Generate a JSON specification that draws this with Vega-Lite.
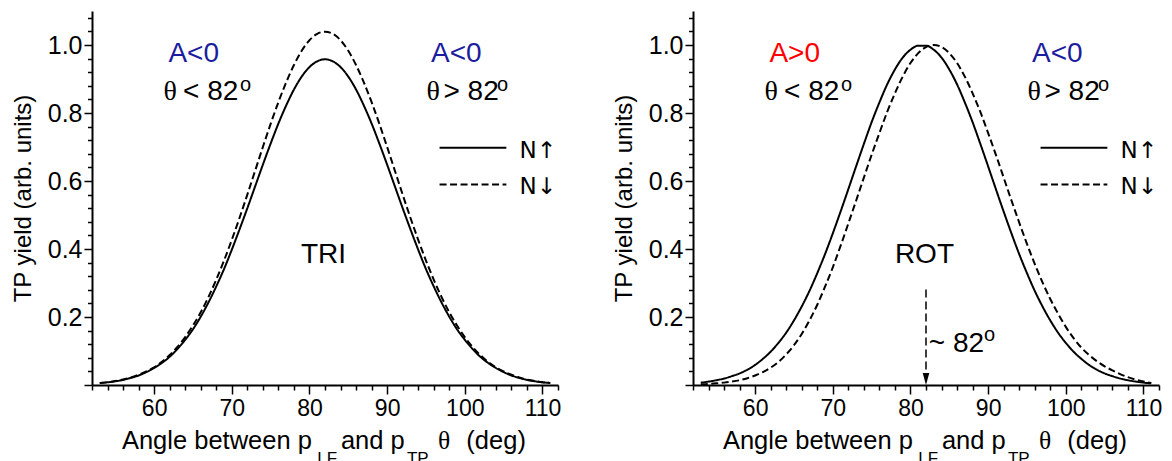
{
  "$schema": "https://vega.github.io/schema/vega-lite/v6.json",
  "background": "white",
  "padding": {"left": 11, "top": 5, "right": 0, "bottom": 0},
  "bounds": "flush",
  "spacing": 135,
  "config": {
    "view": {"stroke": null},
    "font": "Liberation Sans",
    "axis": {
      "labelFont": "Liberation Sans",
      "titleFont": "Liberation Sans",
      "labelColor": "black",
      "titleColor": "black",
      "domainColor": "black",
      "tickColor": "black",
      "grid": false
    }
  },
  "datasets": {
    "yields": [
      {"panel":"TRI","kind":"curve","series":"N↑","theta":53,"yield":0.006},{"panel":"TRI","kind":"curve","series":"N↑","theta":54,"yield":0.008},{"panel":"TRI","kind":"curve","series":"N↑","theta":55,"yield":0.011},{"panel":"TRI","kind":"curve","series":"N↑","theta":56,"yield":0.015},{"panel":"TRI","kind":"curve","series":"N↑","theta":57,"yield":0.021},{"panel":"TRI","kind":"curve","series":"N↑","theta":58,"yield":0.028},{"panel":"TRI","kind":"curve","series":"N↑","theta":59,"yield":0.038},{"panel":"TRI","kind":"curve","series":"N↑","theta":60,"yield":0.050},{"panel":"TRI","kind":"curve","series":"N↑","theta":61,"yield":0.065},{"panel":"TRI","kind":"curve","series":"N↑","theta":62,"yield":0.083},{"panel":"TRI","kind":"curve","series":"N↑","theta":63,"yield":0.106},{"panel":"TRI","kind":"curve","series":"N↑","theta":64,"yield":0.133},{"panel":"TRI","kind":"curve","series":"N↑","theta":65,"yield":0.164},{"panel":"TRI","kind":"curve","series":"N↑","theta":66,"yield":0.201},{"panel":"TRI","kind":"curve","series":"N↑","theta":67,"yield":0.243},{"panel":"TRI","kind":"curve","series":"N↑","theta":68,"yield":0.290},{"panel":"TRI","kind":"curve","series":"N↑","theta":69,"yield":0.341},{"panel":"TRI","kind":"curve","series":"N↑","theta":70,"yield":0.398},{"panel":"TRI","kind":"curve","series":"N↑","theta":71,"yield":0.458},{"panel":"TRI","kind":"curve","series":"N↑","theta":72,"yield":0.520},{"panel":"TRI","kind":"curve","series":"N↑","theta":73,"yield":0.584},{"panel":"TRI","kind":"curve","series":"N↑","theta":74,"yield":0.648},{"panel":"TRI","kind":"curve","series":"N↑","theta":75,"yield":0.710},{"panel":"TRI","kind":"curve","series":"N↑","theta":76,"yield":0.769},{"panel":"TRI","kind":"curve","series":"N↑","theta":77,"yield":0.822},{"panel":"TRI","kind":"curve","series":"N↑","theta":78,"yield":0.869},{"panel":"TRI","kind":"curve","series":"N↑","theta":79,"yield":0.907},{"panel":"TRI","kind":"curve","series":"N↑","theta":80,"yield":0.935},{"panel":"TRI","kind":"curve","series":"N↑","theta":81,"yield":0.952},{"panel":"TRI","kind":"curve","series":"N↑","theta":82,"yield":0.958},{"panel":"TRI","kind":"curve","series":"N↑","theta":83,"yield":0.952},{"panel":"TRI","kind":"curve","series":"N↑","theta":84,"yield":0.935},{"panel":"TRI","kind":"curve","series":"N↑","theta":85,"yield":0.907},{"panel":"TRI","kind":"curve","series":"N↑","theta":86,"yield":0.869},{"panel":"TRI","kind":"curve","series":"N↑","theta":87,"yield":0.822},{"panel":"TRI","kind":"curve","series":"N↑","theta":88,"yield":0.769},{"panel":"TRI","kind":"curve","series":"N↑","theta":89,"yield":0.710},{"panel":"TRI","kind":"curve","series":"N↑","theta":90,"yield":0.648},{"panel":"TRI","kind":"curve","series":"N↑","theta":91,"yield":0.584},{"panel":"TRI","kind":"curve","series":"N↑","theta":92,"yield":0.520},{"panel":"TRI","kind":"curve","series":"N↑","theta":93,"yield":0.458},{"panel":"TRI","kind":"curve","series":"N↑","theta":94,"yield":0.398},{"panel":"TRI","kind":"curve","series":"N↑","theta":95,"yield":0.341},{"panel":"TRI","kind":"curve","series":"N↑","theta":96,"yield":0.290},{"panel":"TRI","kind":"curve","series":"N↑","theta":97,"yield":0.243},{"panel":"TRI","kind":"curve","series":"N↑","theta":98,"yield":0.201},{"panel":"TRI","kind":"curve","series":"N↑","theta":99,"yield":0.164},{"panel":"TRI","kind":"curve","series":"N↑","theta":100,"yield":0.133},{"panel":"TRI","kind":"curve","series":"N↑","theta":101,"yield":0.106},{"panel":"TRI","kind":"curve","series":"N↑","theta":102,"yield":0.083},{"panel":"TRI","kind":"curve","series":"N↑","theta":103,"yield":0.065},{"panel":"TRI","kind":"curve","series":"N↑","theta":104,"yield":0.050},{"panel":"TRI","kind":"curve","series":"N↑","theta":105,"yield":0.038},{"panel":"TRI","kind":"curve","series":"N↑","theta":106,"yield":0.028},{"panel":"TRI","kind":"curve","series":"N↑","theta":107,"yield":0.021},{"panel":"TRI","kind":"curve","series":"N↑","theta":108,"yield":0.015},{"panel":"TRI","kind":"curve","series":"N↑","theta":109,"yield":0.011},{"panel":"TRI","kind":"curve","series":"N↑","theta":110,"yield":0.008},{"panel":"TRI","kind":"curve","series":"N↑","theta":111,"yield":0.006},

      {"panel":"TRI","kind":"curve","series":"N↓","theta":53,"yield":0.006},{"panel":"TRI","kind":"curve","series":"N↓","theta":54,"yield":0.008},{"panel":"TRI","kind":"curve","series":"N↓","theta":55,"yield":0.012},{"panel":"TRI","kind":"curve","series":"N↓","theta":56,"yield":0.016},{"panel":"TRI","kind":"curve","series":"N↓","theta":57,"yield":0.022},{"panel":"TRI","kind":"curve","series":"N↓","theta":58,"yield":0.030},{"panel":"TRI","kind":"curve","series":"N↓","theta":59,"yield":0.040},{"panel":"TRI","kind":"curve","series":"N↓","theta":60,"yield":0.052},{"panel":"TRI","kind":"curve","series":"N↓","theta":61,"yield":0.068},{"panel":"TRI","kind":"curve","series":"N↓","theta":62,"yield":0.088},{"panel":"TRI","kind":"curve","series":"N↓","theta":63,"yield":0.112},{"panel":"TRI","kind":"curve","series":"N↓","theta":64,"yield":0.141},{"panel":"TRI","kind":"curve","series":"N↓","theta":65,"yield":0.175},{"panel":"TRI","kind":"curve","series":"N↓","theta":66,"yield":0.214},{"panel":"TRI","kind":"curve","series":"N↓","theta":67,"yield":0.259},{"panel":"TRI","kind":"curve","series":"N↓","theta":68,"yield":0.310},{"panel":"TRI","kind":"curve","series":"N↓","theta":69,"yield":0.366},{"panel":"TRI","kind":"curve","series":"N↓","theta":70,"yield":0.427},{"panel":"TRI","kind":"curve","series":"N↓","theta":71,"yield":0.492},{"panel":"TRI","kind":"curve","series":"N↓","theta":72,"yield":0.560},{"panel":"TRI","kind":"curve","series":"N↓","theta":73,"yield":0.630},{"panel":"TRI","kind":"curve","series":"N↓","theta":74,"yield":0.700},{"panel":"TRI","kind":"curve","series":"N↓","theta":75,"yield":0.768},{"panel":"TRI","kind":"curve","series":"N↓","theta":76,"yield":0.832},{"panel":"TRI","kind":"curve","series":"N↓","theta":77,"yield":0.890},{"panel":"TRI","kind":"curve","series":"N↓","theta":78,"yield":0.941},{"panel":"TRI","kind":"curve","series":"N↓","theta":79,"yield":0.983},{"panel":"TRI","kind":"curve","series":"N↓","theta":80,"yield":1.014},{"panel":"TRI","kind":"curve","series":"N↓","theta":81,"yield":1.033},{"panel":"TRI","kind":"curve","series":"N↓","theta":82,"yield":1.039},{"panel":"TRI","kind":"curve","series":"N↓","theta":83,"yield":1.033},{"panel":"TRI","kind":"curve","series":"N↓","theta":84,"yield":1.014},{"panel":"TRI","kind":"curve","series":"N↓","theta":85,"yield":0.983},{"panel":"TRI","kind":"curve","series":"N↓","theta":86,"yield":0.941},{"panel":"TRI","kind":"curve","series":"N↓","theta":87,"yield":0.890},{"panel":"TRI","kind":"curve","series":"N↓","theta":88,"yield":0.832},{"panel":"TRI","kind":"curve","series":"N↓","theta":89,"yield":0.768},{"panel":"TRI","kind":"curve","series":"N↓","theta":90,"yield":0.700},{"panel":"TRI","kind":"curve","series":"N↓","theta":91,"yield":0.630},{"panel":"TRI","kind":"curve","series":"N↓","theta":92,"yield":0.560},{"panel":"TRI","kind":"curve","series":"N↓","theta":93,"yield":0.492},{"panel":"TRI","kind":"curve","series":"N↓","theta":94,"yield":0.427},{"panel":"TRI","kind":"curve","series":"N↓","theta":95,"yield":0.366},{"panel":"TRI","kind":"curve","series":"N↓","theta":96,"yield":0.310},{"panel":"TRI","kind":"curve","series":"N↓","theta":97,"yield":0.259},{"panel":"TRI","kind":"curve","series":"N↓","theta":98,"yield":0.214},{"panel":"TRI","kind":"curve","series":"N↓","theta":99,"yield":0.175},{"panel":"TRI","kind":"curve","series":"N↓","theta":100,"yield":0.141},{"panel":"TRI","kind":"curve","series":"N↓","theta":101,"yield":0.112},{"panel":"TRI","kind":"curve","series":"N↓","theta":102,"yield":0.088},{"panel":"TRI","kind":"curve","series":"N↓","theta":103,"yield":0.068},{"panel":"TRI","kind":"curve","series":"N↓","theta":104,"yield":0.052},{"panel":"TRI","kind":"curve","series":"N↓","theta":105,"yield":0.040},{"panel":"TRI","kind":"curve","series":"N↓","theta":106,"yield":0.030},{"panel":"TRI","kind":"curve","series":"N↓","theta":107,"yield":0.022},{"panel":"TRI","kind":"curve","series":"N↓","theta":108,"yield":0.016},{"panel":"TRI","kind":"curve","series":"N↓","theta":109,"yield":0.012},{"panel":"TRI","kind":"curve","series":"N↓","theta":110,"yield":0.008},{"panel":"TRI","kind":"curve","series":"N↓","theta":111,"yield":0.006},

      {"panel":"ROT","kind":"curve","series":"N↑","theta":53,"yield":0.007},{"panel":"ROT","kind":"curve","series":"N↑","theta":54,"yield":0.010},{"panel":"ROT","kind":"curve","series":"N↑","theta":55,"yield":0.014},{"panel":"ROT","kind":"curve","series":"N↑","theta":56,"yield":0.019},{"panel":"ROT","kind":"curve","series":"N↑","theta":57,"yield":0.026},{"panel":"ROT","kind":"curve","series":"N↑","theta":58,"yield":0.034},{"panel":"ROT","kind":"curve","series":"N↑","theta":59,"yield":0.045},{"panel":"ROT","kind":"curve","series":"N↑","theta":60,"yield":0.059},{"panel":"ROT","kind":"curve","series":"N↑","theta":61,"yield":0.077},{"panel":"ROT","kind":"curve","series":"N↑","theta":62,"yield":0.098},{"panel":"ROT","kind":"curve","series":"N↑","theta":63,"yield":0.124},{"panel":"ROT","kind":"curve","series":"N↑","theta":64,"yield":0.154},{"panel":"ROT","kind":"curve","series":"N↑","theta":65,"yield":0.190},{"panel":"ROT","kind":"curve","series":"N↑","theta":66,"yield":0.231},{"panel":"ROT","kind":"curve","series":"N↑","theta":67,"yield":0.277},{"panel":"ROT","kind":"curve","series":"N↑","theta":68,"yield":0.329},{"panel":"ROT","kind":"curve","series":"N↑","theta":69,"yield":0.385},{"panel":"ROT","kind":"curve","series":"N↑","theta":70,"yield":0.446},{"panel":"ROT","kind":"curve","series":"N↑","theta":71,"yield":0.510},{"panel":"ROT","kind":"curve","series":"N↑","theta":72,"yield":0.576},{"panel":"ROT","kind":"curve","series":"N↑","theta":73,"yield":0.643},{"panel":"ROT","kind":"curve","series":"N↑","theta":74,"yield":0.709},{"panel":"ROT","kind":"curve","series":"N↑","theta":75,"yield":0.773},{"panel":"ROT","kind":"curve","series":"N↑","theta":76,"yield":0.831},{"panel":"ROT","kind":"curve","series":"N↑","theta":77,"yield":0.884},{"panel":"ROT","kind":"curve","series":"N↑","theta":78,"yield":0.928},{"panel":"ROT","kind":"curve","series":"N↑","theta":79,"yield":0.963},{"panel":"ROT","kind":"curve","series":"N↑","theta":80,"yield":0.986},{"panel":"ROT","kind":"curve","series":"N↑","theta":81,"yield":0.998},{"panel":"ROT","kind":"curve","series":"N↑","theta":82,"yield":0.998},{"panel":"ROT","kind":"curve","series":"N↑","theta":83,"yield":0.986},{"panel":"ROT","kind":"curve","series":"N↑","theta":84,"yield":0.963},{"panel":"ROT","kind":"curve","series":"N↑","theta":85,"yield":0.928},{"panel":"ROT","kind":"curve","series":"N↑","theta":86,"yield":0.884},{"panel":"ROT","kind":"curve","series":"N↑","theta":87,"yield":0.831},{"panel":"ROT","kind":"curve","series":"N↑","theta":88,"yield":0.773},{"panel":"ROT","kind":"curve","series":"N↑","theta":89,"yield":0.709},{"panel":"ROT","kind":"curve","series":"N↑","theta":90,"yield":0.643},{"panel":"ROT","kind":"curve","series":"N↑","theta":91,"yield":0.576},{"panel":"ROT","kind":"curve","series":"N↑","theta":92,"yield":0.510},{"panel":"ROT","kind":"curve","series":"N↑","theta":93,"yield":0.446},{"panel":"ROT","kind":"curve","series":"N↑","theta":94,"yield":0.385},{"panel":"ROT","kind":"curve","series":"N↑","theta":95,"yield":0.329},{"panel":"ROT","kind":"curve","series":"N↑","theta":96,"yield":0.277},{"panel":"ROT","kind":"curve","series":"N↑","theta":97,"yield":0.231},{"panel":"ROT","kind":"curve","series":"N↑","theta":98,"yield":0.190},{"panel":"ROT","kind":"curve","series":"N↑","theta":99,"yield":0.154},{"panel":"ROT","kind":"curve","series":"N↑","theta":100,"yield":0.124},{"panel":"ROT","kind":"curve","series":"N↑","theta":101,"yield":0.098},{"panel":"ROT","kind":"curve","series":"N↑","theta":102,"yield":0.077},{"panel":"ROT","kind":"curve","series":"N↑","theta":103,"yield":0.059},{"panel":"ROT","kind":"curve","series":"N↑","theta":104,"yield":0.045},{"panel":"ROT","kind":"curve","series":"N↑","theta":105,"yield":0.034},{"panel":"ROT","kind":"curve","series":"N↑","theta":106,"yield":0.026},{"panel":"ROT","kind":"curve","series":"N↑","theta":107,"yield":0.019},{"panel":"ROT","kind":"curve","series":"N↑","theta":108,"yield":0.014},{"panel":"ROT","kind":"curve","series":"N↑","theta":109,"yield":0.010},{"panel":"ROT","kind":"curve","series":"N↑","theta":110,"yield":0.007},{"panel":"ROT","kind":"curve","series":"N↑","theta":111,"yield":0.005},

      {"panel":"ROT","kind":"curve","series":"N↓","theta":53,"yield":0.002},{"panel":"ROT","kind":"curve","series":"N↓","theta":54,"yield":0.003},{"panel":"ROT","kind":"curve","series":"N↓","theta":55,"yield":0.005},{"panel":"ROT","kind":"curve","series":"N↓","theta":56,"yield":0.007},{"panel":"ROT","kind":"curve","series":"N↓","theta":57,"yield":0.010},{"panel":"ROT","kind":"curve","series":"N↓","theta":58,"yield":0.014},{"panel":"ROT","kind":"curve","series":"N↓","theta":59,"yield":0.020},{"panel":"ROT","kind":"curve","series":"N↓","theta":60,"yield":0.028},{"panel":"ROT","kind":"curve","series":"N↓","theta":61,"yield":0.038},{"panel":"ROT","kind":"curve","series":"N↓","theta":62,"yield":0.051},{"panel":"ROT","kind":"curve","series":"N↓","theta":63,"yield":0.068},{"panel":"ROT","kind":"curve","series":"N↓","theta":64,"yield":0.090},{"panel":"ROT","kind":"curve","series":"N↓","theta":65,"yield":0.117},{"panel":"ROT","kind":"curve","series":"N↓","theta":66,"yield":0.150},{"panel":"ROT","kind":"curve","series":"N↓","theta":67,"yield":0.190},{"panel":"ROT","kind":"curve","series":"N↓","theta":68,"yield":0.236},{"panel":"ROT","kind":"curve","series":"N↓","theta":69,"yield":0.289},{"panel":"ROT","kind":"curve","series":"N↓","theta":70,"yield":0.346},{"panel":"ROT","kind":"curve","series":"N↓","theta":71,"yield":0.409},{"panel":"ROT","kind":"curve","series":"N↓","theta":72,"yield":0.475},{"panel":"ROT","kind":"curve","series":"N↓","theta":73,"yield":0.542},{"panel":"ROT","kind":"curve","series":"N↓","theta":74,"yield":0.610},{"panel":"ROT","kind":"curve","series":"N↓","theta":75,"yield":0.677},{"panel":"ROT","kind":"curve","series":"N↓","theta":76,"yield":0.741},{"panel":"ROT","kind":"curve","series":"N↓","theta":77,"yield":0.803},{"panel":"ROT","kind":"curve","series":"N↓","theta":78,"yield":0.858},{"panel":"ROT","kind":"curve","series":"N↓","theta":79,"yield":0.907},{"panel":"ROT","kind":"curve","series":"N↓","theta":80,"yield":0.947},{"panel":"ROT","kind":"curve","series":"N↓","theta":81,"yield":0.976},{"panel":"ROT","kind":"curve","series":"N↓","theta":82,"yield":0.994},{"panel":"ROT","kind":"curve","series":"N↓","theta":83,"yield":1.000},{"panel":"ROT","kind":"curve","series":"N↓","theta":84,"yield":0.994},{"panel":"ROT","kind":"curve","series":"N↓","theta":85,"yield":0.976},{"panel":"ROT","kind":"curve","series":"N↓","theta":86,"yield":0.947},{"panel":"ROT","kind":"curve","series":"N↓","theta":87,"yield":0.907},{"panel":"ROT","kind":"curve","series":"N↓","theta":88,"yield":0.858},{"panel":"ROT","kind":"curve","series":"N↓","theta":89,"yield":0.803},{"panel":"ROT","kind":"curve","series":"N↓","theta":90,"yield":0.741},{"panel":"ROT","kind":"curve","series":"N↓","theta":91,"yield":0.677},{"panel":"ROT","kind":"curve","series":"N↓","theta":92,"yield":0.610},{"panel":"ROT","kind":"curve","series":"N↓","theta":93,"yield":0.543},{"panel":"ROT","kind":"curve","series":"N↓","theta":94,"yield":0.478},{"panel":"ROT","kind":"curve","series":"N↓","theta":95,"yield":0.415},{"panel":"ROT","kind":"curve","series":"N↓","theta":96,"yield":0.356},{"panel":"ROT","kind":"curve","series":"N↓","theta":97,"yield":0.302},{"panel":"ROT","kind":"curve","series":"N↓","theta":98,"yield":0.253},{"panel":"ROT","kind":"curve","series":"N↓","theta":99,"yield":0.210},{"panel":"ROT","kind":"curve","series":"N↓","theta":100,"yield":0.171},{"panel":"ROT","kind":"curve","series":"N↓","theta":101,"yield":0.138},{"panel":"ROT","kind":"curve","series":"N↓","theta":102,"yield":0.110},{"panel":"ROT","kind":"curve","series":"N↓","theta":103,"yield":0.088},{"panel":"ROT","kind":"curve","series":"N↓","theta":104,"yield":0.070},{"panel":"ROT","kind":"curve","series":"N↓","theta":105,"yield":0.055},{"panel":"ROT","kind":"curve","series":"N↓","theta":106,"yield":0.043},{"panel":"ROT","kind":"curve","series":"N↓","theta":107,"yield":0.032},{"panel":"ROT","kind":"curve","series":"N↓","theta":108,"yield":0.023},{"panel":"ROT","kind":"curve","series":"N↓","theta":109,"yield":0.016},{"panel":"ROT","kind":"curve","series":"N↓","theta":110,"yield":0.010},{"panel":"ROT","kind":"curve","series":"N↓","theta":111,"yield":0.006},

      {"panel":"TRI","kind":"key","series":"N↑","theta":96.75,"theta2":105.35,"yield":0.698},
      {"panel":"TRI","kind":"key","series":"N↓","theta":96.75,"theta2":105.35,"yield":0.590},
      {"panel":"ROT","kind":"key","series":"N↑","theta":96.75,"theta2":105.35,"yield":0.698},
      {"panel":"ROT","kind":"key","series":"N↓","theta":96.75,"theta2":105.35,"yield":0.590},

      {"panel":"TRI","kind":"sign","note":"A<0","theta":65.1,"yield":0.95},
      {"panel":"TRI","kind":"sign","note":"A<0","theta":98.9,"yield":0.95},
      {"panel":"ROT","kind":"sign","note":"A>0","theta":65.1,"yield":0.95},
      {"panel":"ROT","kind":"sign","note":"A<0","theta":98.9,"yield":0.95},

      {"panel":"TRI","kind":"theta","note":"θ","theta":62.95,"yield":0.837},
      {"panel":"TRI","kind":"theta","note":"θ","theta":96.8,"yield":0.837},
      {"panel":"ROT","kind":"theta","note":"θ","theta":62.95,"yield":0.837},
      {"panel":"ROT","kind":"theta","note":"θ","theta":96.8,"yield":0.837},

      {"panel":"TRI","kind":"cond","note":"< 82","theta":63.72,"yield":0.837},
      {"panel":"TRI","kind":"cond","note":"> 82","theta":97.25,"yield":0.837},
      {"panel":"ROT","kind":"cond","note":"< 82","theta":63.72,"yield":0.837},
      {"panel":"ROT","kind":"cond","note":"> 82","theta":97.25,"yield":0.837},
      {"panel":"ROT","kind":"cond","note":"~ 82","theta":82.36,"yield":0.098},

      {"panel":"TRI","kind":"deg","note":"o","theta":71.06,"yield":0.866},
      {"panel":"TRI","kind":"deg","note":"o","theta":104.15,"yield":0.866},
      {"panel":"ROT","kind":"deg","note":"o","theta":71.06,"yield":0.866},
      {"panel":"ROT","kind":"deg","note":"o","theta":104.15,"yield":0.866},
      {"panel":"ROT","kind":"deg","note":"o","theta":89.47,"yield":0.129},

      {"panel":"TRI","kind":"name","theta":81.8,"yield":0.36},
      {"panel":"ROT","kind":"name","theta":81.8,"yield":0.36},

      {"panel":"ROT","kind":"arrow","theta":82,"yield":0.281,"yield2":0},
      {"panel":"ROT","kind":"arrowhead","theta":82,"yield":0},

      {"panel":"TRI","kind":"title","note":"Angle between p","theta":55.85,"yield":0},
      {"panel":"TRI","kind":"title","note":"and p","theta":84.05,"yield":0},
      {"panel":"TRI","kind":"title","note":"(deg)","theta":100.2,"yield":0},
      {"panel":"TRI","kind":"titletheta","note":"θ","theta":96.55,"yield":0},
      {"panel":"TRI","kind":"sub","note":"LF","theta":81.0,"yield":0},
      {"panel":"TRI","kind":"sub","note":"TP","theta":92.55,"yield":0},
      {"panel":"ROT","kind":"title","note":"Angle between p","theta":55.85,"yield":0},
      {"panel":"ROT","kind":"title","note":"and p","theta":84.05,"yield":0},
      {"panel":"ROT","kind":"title","note":"(deg)","theta":100.2,"yield":0},
      {"panel":"ROT","kind":"titletheta","note":"θ","theta":96.55,"yield":0},
      {"panel":"ROT","kind":"sub","note":"LF","theta":81.0,"yield":0},
      {"panel":"ROT","kind":"sub","note":"TP","theta":92.55,"yield":0}
    ]
  },
  "data": {"name": "yields"},
  "facet": {
    "column": {"field": "panel", "type": "nominal", "sort": "descending", "header": null}
  },
  "resolve": {"axis": {"x": "independent", "y": "independent"}},
  "spec": {
    "width": 466,
    "height": 374,
    "encoding": {
      "x": {
        "field": "theta",
        "type": "quantitative",
        "scale": {"domain": [52, 112], "nice": false, "zero": false},
        "axis": {
          "title": null,
          "values": [52,54,56,58,60,62,64,66,68,70,72,74,76,78,80,82,84,86,88,90,92,94,96,98,100,102,104,106,108,110,112],
          "labelExpr": "datum.value % 10 === 0 ? datum.label : ''",
          "labelFontSize": 23,
          "labelPadding": 3,
          "labelOverlap": false,
          "labelFlush": false,
          "labelBound": false,
          "domainWidth": 2,
          "tickWidth": 1.5,
          "tickSize": {"condition": {"test": "datum.value % 10 === 0", "value": 9}, "value": 5}
        }
      },
      "y": {
        "field": "yield",
        "type": "quantitative",
        "scale": {"domain": [0, 1.1], "nice": false, "zero": false},
        "axis": {
          "title": "TP yield (arb. units)",
          "titleFontSize": 24,
          "titleFontWeight": "normal",
          "titlePadding": 12,
          "values": [0,0.04,0.08,0.12,0.16,0.2,0.24,0.28,0.32,0.36,0.4,0.44,0.48,0.52,0.56,0.6,0.64,0.68,0.72,0.76,0.8,0.84,0.88,0.92,0.96,1,1.04,1.08],
          "labelExpr": "datum.value > 0.01 && round(datum.value * 100) % 20 === 0 ? format(datum.value, '.1f') : ''",
          "labelFontSize": 25,
          "labelPadding": 2,
          "labelOverlap": false,
          "labelFlush": false,
          "labelBound": false,
          "domainWidth": 2,
          "tickWidth": 1.5,
          "tickSize": {"condition": {"test": "round(datum.value * 100) % 20 === 0", "value": 8}, "value": 4.5}
        }
      }
    },
    "layer": [
      {
        "transform": [{"filter": "datum.kind === 'curve'"}],
        "mark": {"type": "line", "color": "black", "strokeWidth": 2, "interpolate": "monotone"},
        "encoding": {
          "strokeDash": {
            "field": "series", "type": "nominal",
            "scale": {"domain": ["N↑", "N↓"], "range": [[1, 0], [7, 3.5]]},
            "legend": null
          }
        }
      },
      {
        "transform": [{"filter": "datum.kind === 'key'"}],
        "mark": {"type": "rule", "color": "black", "strokeWidth": 2},
        "encoding": {
          "x2": {"field": "theta2"},
          "strokeDash": {
            "field": "series", "type": "nominal",
            "scale": {"domain": ["N↑", "N↓"], "range": [[1, 0], [7, 3.5]]},
            "legend": null
          }
        }
      },
      {
        "transform": [{"filter": "datum.kind === 'key'"}],
        "mark": {"type": "text", "align": "left", "baseline": "alphabetic", "dx": 80, "dy": 10, "fontSize": 23, "font": "DejaVu Sans", "color": "black"},
        "encoding": {"text": {"field": "series"}}
      },
      {
        "transform": [{"filter": "datum.kind === 'sign'"}],
        "mark": {"type": "text", "align": "center", "baseline": "alphabetic", "fontSize": 28},
        "encoding": {
          "text": {"field": "note"},
          "color": {
            "field": "note", "type": "nominal",
            "scale": {"domain": ["A<0", "A>0"], "range": ["#1c1c9e", "#ff0000"]},
            "legend": null
          }
        }
      },
      {
        "transform": [{"filter": "datum.kind === 'theta'"}],
        "mark": {"type": "text", "align": "right", "baseline": "alphabetic", "fontSize": 28, "font": "Liberation Serif", "color": "black"},
        "encoding": {"text": {"field": "note"}}
      },
      {
        "transform": [{"filter": "datum.kind === 'cond'"}],
        "mark": {"type": "text", "align": "left", "baseline": "alphabetic", "fontSize": 28, "color": "black"},
        "encoding": {"text": {"field": "note"}}
      },
      {
        "transform": [{"filter": "datum.kind === 'deg'"}],
        "mark": {"type": "text", "align": "left", "baseline": "alphabetic", "fontSize": 20, "color": "black"},
        "encoding": {"text": {"field": "note"}}
      },
      {
        "transform": [{"filter": "datum.kind === 'name'"}],
        "mark": {"type": "text", "align": "center", "baseline": "alphabetic", "fontSize": 28, "color": "black"},
        "encoding": {"text": {"field": "panel"}}
      },
      {
        "transform": [{"filter": "datum.kind === 'arrow'"}],
        "mark": {"type": "rule", "color": "black", "strokeWidth": 1.5, "strokeDash": [8, 4]},
        "encoding": {"y2": {"field": "yield2"}}
      },
      {
        "transform": [{"filter": "datum.kind === 'arrowhead'"}],
        "mark": {"type": "point", "shape": "M-0.55,-2L0.55,-2L0,0Z", "size": 144, "filled": true, "color": "black", "opacity": 1},
        "encoding": {}
      },
      {
        "transform": [{"filter": "datum.kind === 'title'"}],
        "mark": {"type": "text", "align": "left", "baseline": "alphabetic", "dy": 64, "fontSize": 25.5, "color": "black"},
        "encoding": {"text": {"field": "note"}}
      },
      {
        "transform": [{"filter": "datum.kind === 'titletheta'"}],
        "mark": {"type": "text", "align": "left", "baseline": "alphabetic", "dy": 64, "fontSize": 25.5, "font": "Liberation Serif", "color": "black"},
        "encoding": {"text": {"field": "note"}}
      },
      {
        "transform": [{"filter": "datum.kind === 'sub'"}],
        "mark": {"type": "text", "align": "left", "baseline": "alphabetic", "dy": 78.5, "fontSize": 17, "color": "black"},
        "encoding": {"text": {"field": "note"}}
      }
    ]
  }
}
